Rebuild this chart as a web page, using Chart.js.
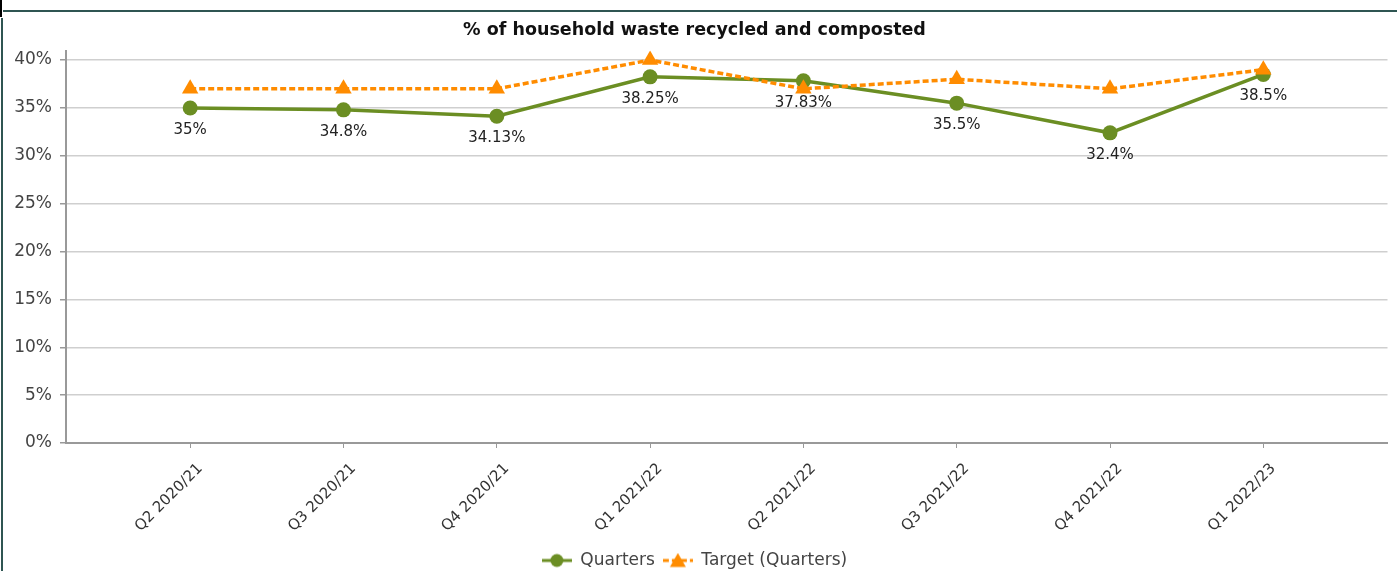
<!DOCTYPE html>
<html>
<head>
<meta charset="utf-8">
<script src="https://cdn.jsdelivr.net/npm/chart.js@4.4.0/dist/chart.umd.min.js"></script>
<style>
  html, body { margin: 0; padding: 0; background: #fff; overflow: hidden; }
  #wrap { position: relative; width: 1397px; height: 571px; overflow: hidden; }
  #c { position: absolute; left: 0; top: 0; }
  .blk { position: absolute; left: 0; top: 0; width: 2px; height: 17px; background: #000; }
  .topline { position: absolute; left: 3px; top: 10px; width: 1394px; height: 2px; background: #2f5552; }
  .leftline { position: absolute; left: 1px; top: 18px; width: 2px; height: 553px; background: #2f5552; }
</style>
</head>
<body>
<div id="wrap">
  <canvas id="c" width="1397" height="571"></canvas>
  <div class="blk"></div>
  <div class="topline"></div>
  <div class="leftline"></div>
</div>
<script>
const categories = ["Q2 2020/21", "Q3 2020/21", "Q4 2020/21", "Q1 2021/22", "Q2 2021/22", "Q3 2021/22", "Q4 2021/22", "Q1 2022/23"];
const quarters = [35, 34.8, 34.13, 38.25, 37.83, 35.5, 32.4, 38.5];
const targets = [37, 37, 37, 40, 37, 38, 37, 39];
const yTicks = [0, 5, 10, 15, 20, 25, 30, 35, 40];
const seriesNames = ["Quarters", "Target (Quarters)"];
const titleText = "% of household waste recycled and composted";

const GREEN = "#6b8e23";
const ORANGE = "#ff8c00";
const FONT = "'DejaVu Sans', Verdana, sans-serif";

function legendIcon(color, style, dashed) {
  const c = document.createElement("canvas");
  c.width = 30; c.height = 16;
  const g = c.getContext("2d");
  g.strokeStyle = color; g.lineWidth = 3;
  if (dashed) g.setLineDash([6, 3]);
  g.beginPath(); g.moveTo(0, 8); g.lineTo(30, 8); g.stroke();
  g.setLineDash([]);
  g.fillStyle = color;
  g.beginPath();
  if (style === "circle") { g.arc(15, 8, 6.5, 0, Math.PI * 2); }
  else { g.moveTo(15, 0.5); g.lineTo(23, 14.5); g.lineTo(7, 14.5); g.closePath(); }
  g.fill();
  return c;
}
const icons = [legendIcon(GREEN, "circle", false), legendIcon(ORANGE, "triangle", true)];

const labelPlugin = {
  id: "valueLabels",
  afterDatasetDraw(chart, args) {
    if (args.index !== 0) return;
    const ctx = chart.ctx;
    ctx.save();
    ctx.font = "15px " + FONT;
    ctx.fillStyle = "#222";
    ctx.textAlign = "center";
    ctx.textBaseline = "middle";
    args.meta.data.forEach((pt, i) => {
      ctx.fillText(quarters[i] + "%", pt.x, pt.y + 22);
    });
    ctx.restore();
  }
};

new Chart(document.getElementById("c"), {
  type: "line",
  data: {
    datasets: [
      {
        label: seriesNames[0],
        data: quarters.map((v, i) => ({ x: i, y: v })),
        borderColor: GREEN, backgroundColor: GREEN,
        borderWidth: 3.5, pointRadius: 7.5, pointHoverRadius: 7.5,
        pointStyle: "circle", pointBorderWidth: 0, tension: 0, order: 2
      },
      {
        label: seriesNames[1],
        data: targets.map((v, i) => ({ x: i, y: v })),
        borderColor: ORANGE, backgroundColor: ORANGE,
        borderWidth: 3.5, borderDash: [6, 3], pointRadius: 9.5, pointHoverRadius: 9.5,
        pointStyle: "triangle", pointBorderWidth: 0, tension: 0, order: 1
      }
    ]
  },
  options: {
    responsive: false,
    animation: false,
    devicePixelRatio: 1,
    layout: { padding: { left: 0, right: 8, top: 0, bottom: -8 } },
    plugins: {
      tooltip: { enabled: false },
      title: {
        display: true, text: titleText, color: "#111",
        font: { family: FONT, size: 17.5, weight: "bold", lineHeight: 1.2 },
        padding: { top: 19.5, bottom: 10 }
      },
      legend: {
        position: "bottom",
        labels: {
          color: "#444",
          font: { family: FONT, size: 17 },
          usePointStyle: true, pointStyleWidth: 30, boxHeight: 15, padding: 8,
          sort: (a, b) => a.datasetIndex - b.datasetIndex,
          generateLabels: (chart) => chart.data.datasets.map((ds, i) => ({
            text: ds.label, pointStyle: icons[i], fillStyle: ds.borderColor,
            strokeStyle: ds.borderColor, lineWidth: 0, hidden: false, datasetIndex: i, fontColor: "#444"
          }))
        }
      }
    },
    scales: {
      x: {
        type: "linear", min: -0.81, max: 7.81,
        afterBuildTicks: (s) => { s.ticks = categories.map((c, i) => ({ value: i })); },
        afterFit: (s) => { s.height = 101; },
        ticks: {
          autoSkip: false, minRotation: 45, maxRotation: 45, color: "#333",
          font: { family: FONT, size: 15 }, padding: 12, labelOffset: 10,
          callback: (v) => categories[v]
        },
        grid: { drawOnChartArea: false, drawTicks: true, tickLength: 5, color: "#999", lineWidth: 1 },
        border: { display: true, color: "#999", width: 2 }
      },
      y: {
        min: 0, max: 41,
        afterBuildTicks: (s) => { s.ticks = yTicks.map(v => ({ value: v })); },
        afterFit: (s) => { s.width = 66; },
        ticks: {
          color: "#444", font: { family: FONT, size: 17 }, padding: 8,
          callback: (v) => v + "%"
        },
        grid: { color: "#cfcfcf", lineWidth: 1.5, drawTicks: true, tickLength: 6, tickColor: "#999" },
        border: { display: true, color: "#999", width: 2 }
      }
    }
  },
  plugins: [labelPlugin]
});
</script>
</body>
</html>
